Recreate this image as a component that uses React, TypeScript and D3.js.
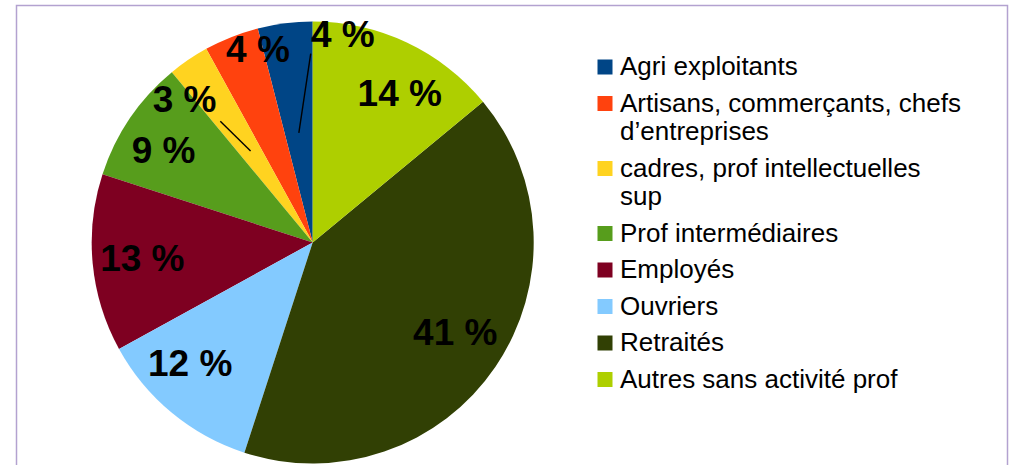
import React from "react";
import * as d3 from "d3";

// ---- data (legend order) ----
const categories = [
  "Agri exploitants",
  "Artisans, commerçants, chefs d’entreprises",
  "cadres, prof intellectuelles sup",
  "Prof intermédiaires",
  "Employés",
  "Ouvriers",
  "Retraités",
  "Autres sans activité prof",
];
const legendLines = [
  ["Agri exploitants"],
  ["Artisans, commerçants, chefs", "d’entreprises"],
  ["cadres, prof intellectuelles", "sup"],
  ["Prof intermédiaires"],
  ["Employés"],
  ["Ouvriers"],
  ["Retraités"],
  ["Autres sans activité prof"],
];
const values = [4, 4, 3, 9, 13, 12, 41, 14];
const colors = [
  "#004586",
  "#ff420e",
  "#ffd320",
  "#579d1c",
  "#7e0021",
  "#83caff",
  "#314004",
  "#aecf00",
];

// label placement (angle offset in degrees relative to slice middle, radius as fraction of R),
// with optional leader line
type Place = { dA: number; r: number; line?: { dA: number; r: number; innerR: number } };
const placements: Record<string, Place> = {
  "Agri exploitants": { dA: 15.4, r: 0.955, line: { dA: 6.6, r: 0.855, innerR: 0.5 } },
  "Artisans, commerçants, chefs d’entreprises": { dA: 5.8, r: 0.91 },
  "cadres, prof intellectuelles sup": { dA: -7.4, r: 0.873, line: { dA: -3.1, r: 0.69, innerR: 0.5 } },
  "Prof intermédiaires": { dA: -2.2, r: 0.796 },
  "Employés": { dA: 0.2, r: 0.774 },
  "Ouvriers": { dA: 6, r: 0.776 },
  "Retraités": { dA: -2.3, r: 0.76 },
  "Autres sans activité prof": { dA: 5, r: 0.783 },
};

const W = 1016;
const H = 465;
const cx = 312.7;
const cy = 242.5;
const R = 221;
const FONT = "'Liberation Sans', Arial, sans-serif";

export default function App() {
  const pie = d3
    .pie<number>()
    .sort(null)
    .value((d) => d)
    .startAngle(0)
    .endAngle(-2 * Math.PI);
  const arcs = pie(values);
  const arc = d3.arc<d3.PieArcDatum<number>>().innerRadius(0).outerRadius(R);
  const toRad = Math.PI / 180;

  const polar = (angleRad: number, r: number) => [r * Math.sin(angleRad), -r * Math.cos(angleRad)];

  // legend layout
  const legendX = 597.5;
  const textX = 620;
  const lineH = 28.5;
  const gap = 8;
  let baseline = 75;
  const legendItems = legendLines.map((lines, i) => {
    const b = baseline;
    baseline += lines.length * lineH + gap;
    return { lines, b, i };
  });

  return (
    <svg
      width={W}
      height={H}
      style={{ position: "absolute", left: 0, top: 0, background: "#fff" }}
      fontFamily={FONT}
    >
      <rect x={0} y={0} width={W} height={H} fill="#fff" />
      <path d={`M16.5,${H + 5} L16.5,5.5 L1007.5,5.5 L1007.5,${H + 5}`} fill="none" stroke="#b3a2d0" strokeWidth={1.5} />
      <g transform={`translate(${cx},${cy})`}>
        {arcs.map((a, i) => (
          <path key={i} d={arc(a) || ""} fill={colors[i]} />
        ))}
        {arcs.map((a, i) => {
          const mid = (a.startAngle + a.endAngle) / 2;
          const label = `${values[i]} %`;
          const p = placements[categories[i]] || { dA: 0, r: 0.775 };
          const [lx, ly] = polar(mid + p.dA * toRad, R * p.r);
          let leader = null;
          if (p.line) {
            const [x1, y1] = polar(mid + p.line.dA * toRad, R * p.line.r);
            const [x2, y2] = polar(mid, R * p.line.innerR);
            leader = <line x1={x1} y1={y1} x2={x2} y2={y2} stroke="#000" strokeWidth={1.4} />;
          }
          return (
            <g key={i}>
              {leader}
              <text x={lx} y={ly} dy="0.36em" textAnchor="middle" fontSize={37} fontWeight="bold" fill="#000">
                {label}
              </text>
            </g>
          );
        })}
      </g>
      <g>
        {legendItems.map(({ lines, b, i }) => (
          <g key={i}>
            <rect x={legendX} y={b - 15.5} width={15} height={15} fill={colors[i]} />
            {lines.map((t, j) => (
              <text key={j} x={textX} y={b + j * lineH} fontSize={26} fill="#000">
                {t}
              </text>
            ))}
          </g>
        ))}
      </g>
    </svg>
  );
}
